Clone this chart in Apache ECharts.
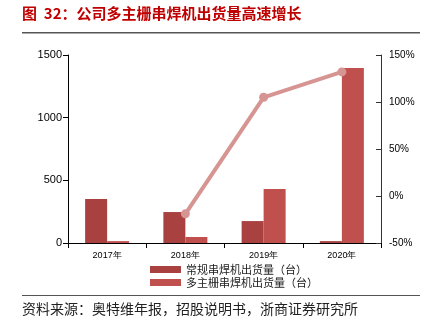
<!DOCTYPE html>
<html><head><meta charset="utf-8">
<script src="https://cdn.jsdelivr.net/npm/echarts@6/dist/echarts.min.js"></script>
<style>html,body{margin:0;padding:0;background:#fff}#c{width:428px;height:331px}</style>
</head><body><div id="c"></div>
<script>
var categories = ['2017年','2018年','2019年','2020年'];
var regularShipments = [351, 247, 175, 15];
var multiShipments = [15, 48, 431, 1396];
var growthRate = [null, -19, 105, 132];
var leftTicks = [0, 500, 1000, 1500];
var rightTicks = [-50, 0, 50, 100, 150];

var chart = echarts.init(document.getElementById('c'), null, {renderer:'canvas'});
chart.setOption({
  animation: false,
  backgroundColor: '#fff',
  graphic: [
    {type:'text', left:22, top:6, style:{text:'图  32：公司多主栅串焊机出货量高速增长', fill:'#C00000', font:'bold 15px "Noto Sans CJK SC"'}},
    {type:'rect', shape:{x:22, y:32, width:398, height:1.5}, style:{fill:'#555'}},
    {type:'rect', shape:{x:22, y:295, width:398, height:1}, style:{fill:'#555'}},
    {type:'text', left:22, top:302, style:{text:'资料来源：奥特维年报，招股说明书，浙商证券研究所', fill:'#222', font:'14px "Noto Sans CJK SC"'}}
  ],
  grid: {left:68, right:47, top:55, bottom:88},
  legend: {
    orient:'vertical', left:145, top:259, itemWidth:31, itemHeight:7, itemGap:2,
    data:['常规串焊机出货量（台）','多主栅串焊机出货量（台）'],
    textStyle:{fontSize:11, color:'#222', fontFamily:'"Noto Sans CJK SC"'},
    icon:'rect'
  },
  xAxis: {
    type:'category', data:categories,
    axisLine:{lineStyle:{color:'#000'}},
    axisTick:{show:true, alignWithLabel:false, lineStyle:{color:'#000'}},
    axisLabel:{color:'#000', fontSize:9, fontFamily:'"Liberation Sans"', margin:8}
  },
  yAxis: [
    {type:'value', min:0, max:1500, interval:500, position:'left',
     axisLine:{show:true, lineStyle:{color:'#000'}}, axisTick:{show:true, lineStyle:{color:'#000'}},
     splitLine:{show:false},
     axisLabel:{color:'#000', fontSize:11, fontFamily:'"Liberation Sans"', margin:6, formatter:function(v){return String(v);}}},
    {type:'value', min:-50, max:150, interval:50, position:'right',
     axisLine:{show:true, lineStyle:{color:'#333'}}, axisTick:{show:true, inside:true, lineStyle:{color:'#333'}},
     splitLine:{show:false},
     axisLabel:{color:'#000', fontSize:10, fontFamily:'"Liberation Sans"', margin:8, formatter:'{value}%'}}
  ],
  series: [
    {name:'常规串焊机出货量（台）', type:'bar', data:regularShipments, barWidth:22, barGap:'0%',
     itemStyle:{color:'#A8413F'}},
    {name:'多主栅串焊机出货量（台）', type:'bar', data:multiShipments, barWidth:22,
     itemStyle:{color:'#C0504D'}},
    {name:'增速', type:'line', yAxisIndex:1, data:growthRate, symbol:'circle', symbolSize:9,
     lineStyle:{color:'#D69593', width:4}, itemStyle:{color:'#D69593'}, z:5}
  ]
});
</script></body></html>
